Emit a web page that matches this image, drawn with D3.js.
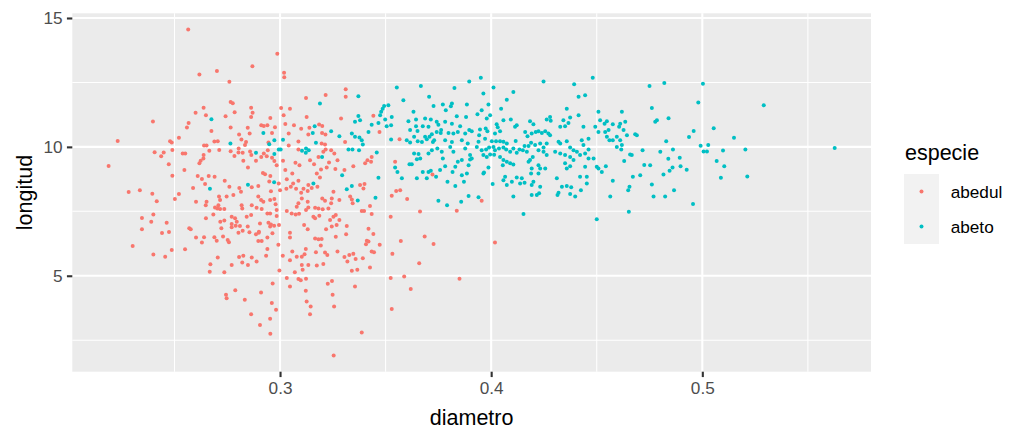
<!DOCTYPE html>
<html>
<head>
<meta charset="utf-8">
<script src="https://cdn.jsdelivr.net/npm/d3@7"></script>
<style>
  body { margin: 0; background: #fff; }
  text { font-family: "Liberation Sans", Arial, sans-serif; }
</style>
</head>
<body>
<div id="container"></div>
<script>
// values: [diametro, longitud]
const abedul = [
  [0.2398,10.98],[0.2231,10.23],[0.2188,9.26],[0.2406,9.79],[0.2449,9.78],[0.2437,9.64],[0.2479,10.22],[0.2487,10.17],
  [0.2490,9.88],[0.2473,9.33],[0.2490,8.88],[0.2521,10.35],[0.2336,8.32],[0.2283,8.25],[0.2395,8.18],[0.2416,7.89],
  [0.2502,7.98],[0.2521,8.17],[0.2346,7.24],[0.2400,7.38],[0.2390,7.10],[0.2346,6.80],[0.2463,7.06],[0.2441,6.66],
  [0.2474,6.70],[0.2302,6.15],[0.2400,5.82],[0.2456,5.74],[0.2487,6.00],
  [0.2565,14.55],[0.2618,12.81],[0.2701,12.94],[0.2760,12.53],[0.2869,13.13],[0.2987,13.61],[0.3019,12.88],[0.3020,12.70],
  [0.2766,11.74],[0.2776,11.69],[0.2863,11.52],[0.2638,11.52],[0.2600,11.32],[0.2649,11.23],[0.2742,11.19],[0.2785,11.34],
  [0.2870,11.32],[0.2863,11.16],[0.3005,11.51],[0.3047,11.48],[0.3017,11.23],[0.3123,11.90],[0.3126,11.16],[0.2954,11.12],
  [0.2567,10.93],[0.2559,10.75],[0.2675,10.62],[0.2911,10.84],[0.2923,10.81],[0.2940,10.84],[0.2847,10.74],[0.2766,10.75],
  [0.2806,10.48],[0.2856,10.52],[0.3025,10.89],[0.2976,10.76],[0.3066,10.84],[0.3100,10.70],[0.3139,10.74],[0.2962,10.54],
  [0.3041,10.52],[0.2689,10.21],[0.2705,10.22],[0.2817,10.29],[0.2839,10.19],[0.2945,10.17],[0.3087,10.21],[0.3134,10.48],
  [0.2640,10.05],[0.2652,10.05],[0.2665,9.85],[0.2712,9.88],[0.2766,9.83],[0.2804,9.94],[0.2834,10.07],[0.2784,9.65],
  [0.2803,9.78],[0.2823,9.77],[0.2858,9.82],[0.2864,9.68],[0.2942,9.87],[0.2923,9.74],[0.2937,9.64],[0.3041,10.05],
  [0.3087,9.90],[0.2539,9.74],[0.2551,9.74],[0.2638,9.68],[0.2637,9.55],[0.2624,9.46],[0.2618,9.36],[0.2547,9.10],
  [0.2826,9.46],[0.2848,9.20],[0.2886,9.46],[0.2911,9.61],[0.2962,9.58],[0.2973,9.45],[0.2984,9.29],[0.3025,9.10],
  [0.3014,9.46],[0.3073,9.38],[0.3092,9.29],[0.3058,8.97],[0.2919,8.99],[0.2929,8.94],[0.2954,8.87],[0.2949,8.66],
  [0.2610,8.87],[0.2630,8.75],[0.2662,8.87],[0.2690,8.84],[0.2645,8.56],[0.2588,8.40],[0.2738,8.69],[0.2760,8.45],
  [0.2807,8.40],[0.2815,8.26],[0.2866,8.43],[0.2897,8.48],[0.2957,8.28],[0.3000,8.32],[0.3030,8.38],[0.2994,8.58],
  [0.3051,8.45],[0.3062,8.58],[0.3087,8.69],[0.3076,8.38],[0.3100,8.22],[0.3111,8.38],[0.3134,8.52],[0.3131,8.29],
  [0.3032,8.74],
  [0.2602,7.87],[0.2648,7.74],[0.2652,7.87],[0.2711,8.07],[0.2716,7.94],[0.2708,7.74],[0.2779,8.13],[0.2747,8.07],
  [0.2818,7.74],[0.2821,7.61],[0.2897,8.07],[0.2910,7.94],[0.2921,7.87],[0.2953,7.94],[0.2973,7.98],[0.2979,7.77],
  [0.2692,7.65],[0.2703,7.61],[0.2716,7.59],[0.2736,7.59],[0.2866,7.74],[0.2889,7.64],[0.2913,7.59],[0.2940,7.42],
  [0.2953,7.42],[0.2984,7.55],[0.2984,7.32],[0.3032,7.51],[0.3055,7.42],[0.3074,7.38],[0.3090,7.41],[0.3079,7.68],
  [0.3087,7.81],[0.3103,8.00],[0.3131,7.87],[0.3134,7.65],[0.3123,7.55],[0.2863,7.36],[0.2842,7.29],[0.2649,7.23],
  [0.2684,7.38],[0.2717,7.10],[0.2736,7.14],[0.2771,7.29],[0.2787,7.23],[0.2795,7.10],[0.2771,7.01],[0.2771,6.88],
  [0.2790,6.94],[0.2810,6.93],[0.2847,6.91],[0.2823,6.75],[0.2905,7.03],[0.2900,6.71],[0.2945,7.06],[0.2957,6.99],
  [0.2972,6.94],[0.2995,6.97],[0.2953,6.91],[0.2570,6.84],[0.2577,6.80],[0.2722,6.84],[0.2803,6.67],[0.2855,6.69],
  [0.2899,6.67],[0.2886,6.61],[0.2940,6.48],[0.2964,6.65],[0.3047,6.67],[0.3047,6.48],[0.3114,6.97],[0.3131,6.80],
  [0.2602,6.48],[0.2640,6.49],[0.2630,6.29],[0.2689,6.49],[0.2700,6.36],[0.2730,6.52],[0.2752,6.39],[0.2758,6.30],
  [0.2897,6.35],[0.2913,6.35],[0.2940,6.04],[0.2934,5.78],[0.2992,6.20],[0.3122,6.04],[0.3116,5.83],[0.3103,5.74],
  [0.3058,5.94],[0.3079,5.74],[0.3047,5.60],[0.3013,5.78],[0.2550,6.03],[0.2705,5.71],[0.2806,5.73],[0.2826,5.78],
  [0.2821,5.51],[0.2866,5.71],[0.2889,5.55],[0.2848,5.42],[0.2771,5.42],[0.2670,5.45],[0.2667,5.16],[0.2736,5.14],
  [0.2997,5.20],[0.3070,5.14],[0.3107,5.23],[0.3103,5.42],[0.3134,5.42],[0.3032,4.91],[0.3047,4.58],[0.3087,4.87],
  [0.3098,4.83],[0.3123,4.88],[0.2965,4.70],[0.2788,4.44],[0.2744,4.26],[0.2747,4.13],[0.2910,4.35],[0.3122,4.42],
  [0.3126,4.00],[0.2961,3.94],[0.2833,4.07],[0.2863,3.51],[0.2905,3.09],[0.2953,3.33],[0.2954,2.75],[0.2981,3.68],
  [0.3216,12.01],[0.3311,11.94],[0.3289,11.10],[0.3442,11.21],[0.3471,10.58],[0.3185,10.87],[0.3200,10.81],[0.3199,10.54],
  [0.3215,10.48],[0.3197,10.13],[0.3213,10.09],[0.3216,9.90],[0.3205,9.81],[0.3308,10.19],[0.3142,9.48],[0.3161,9.33],
  [0.3242,9.87],[0.3257,9.74],[0.3182,9.61],[0.3272,9.48],[0.3262,9.14],[0.3232,9.39],[0.3221,9.20],[0.3194,9.12],
  [0.3174,8.97],[0.3189,8.81],[0.3347,9.25],[0.3305,9.10],[0.3414,9.48],[0.3431,9.42],[0.3434,9.61],[0.3403,9.36],
  [0.3545,9.42],[0.3566,10.30],[0.3177,8.45],[0.3150,8.40],[0.3253,8.26],[0.3379,8.52],[0.3395,8.39],[0.3400,8.56],
  [0.3550,8.29],[0.3569,8.32],[0.3311,12.24],[0.3722,8.93],
  [0.3200,8.00],[0.3213,7.91],[0.3245,8.00],[0.3281,7.94],[0.3242,7.81],[0.3332,8.07],[0.3340,7.96],[0.3344,7.81],
  [0.3166,7.64],[0.3182,7.61],[0.3202,7.58],[0.3229,7.61],[0.3237,7.16],[0.3253,7.29],[0.3264,7.36],[0.3281,7.16],
  [0.3268,6.97],[0.3245,6.91],[0.3218,6.80],[0.3158,7.29],[0.3166,7.23],[0.3186,7.33],[0.3387,7.51],[0.3398,7.51],
  [0.3434,7.40],[0.3426,7.71],[0.3316,6.93],[0.3313,6.61],[0.3419,6.82],[0.3442,6.62],[0.3264,6.51],[0.3166,6.45],
  [0.3182,6.42],[0.3197,6.43],[0.3193,6.17],[0.3411,6.36],[0.3419,6.33],[0.3407,6.22],[0.3472,6.20],[0.3272,5.94],
  [0.3213,5.90],[0.3224,5.81],[0.3170,5.91],[0.3305,5.73],[0.3319,5.55],[0.3328,5.81],[0.3347,5.85],[0.3358,5.65],
  [0.3392,5.68],[0.3434,5.94],[0.3445,5.91],[0.3426,5.32],[0.3174,5.40],[0.3205,5.46],[0.3340,5.19],[0.3366,5.23],
  [0.3226,4.69],[0.3246,4.80],[0.3355,4.58],[0.3249,4.26],[0.3529,8.10],[0.3602,7.98],[0.3524,7.29],[0.3663,7.49],
  [0.3572,6.35],[0.3685,6.52],[0.3727,6.23],[0.3532,5.85],[0.3659,5.49],[0.3524,4.91],[0.3588,4.97],[0.3619,4.49],
  [0.3145,3.81],[0.3142,3.51],[0.3256,3.81],[0.3387,2.80],[0.3254,1.91],[0.3529,3.71],
  [0.3955,7.91],[0.4018,6.29],[0.3837,7.52],[0.3850,4.88]
];

const abeto = [
  [0.2675,11.07],[0.2921,10.54],[0.2765,10.13],[0.2973,10.26],[0.3014,10.28],[0.2949,10.10],[0.2886,9.77],[0.2994,9.90],
  [0.3003,9.90],[0.2973,9.72],[0.3104,9.85],[0.3123,9.94],[0.3136,9.87],[0.3122,9.77],[0.2972,8.63],[0.2848,8.53],
  [0.2668,8.38],
  [0.3553,12.30],[0.3667,12.36],[0.3826,12.28],[0.3896,12.54],
  [0.3371,11.96],[0.3189,11.68],[0.3486,11.48],[0.3479,11.36],[0.3474,11.23],[0.3493,11.59],[0.3513,11.61],[0.3371,11.20],
  [0.3379,11.03],[0.3355,10.97],[0.3434,10.86],[0.3419,10.58],[0.3498,11.06],[0.3529,11.16],[0.3466,10.93],[0.3505,10.80],
  [0.3526,10.84],[0.3164,10.80],[0.3155,10.54],[0.3242,10.61],[0.3340,10.52],[0.3355,10.39],[0.3376,10.36],[0.3387,10.26],
  [0.3392,10.09],[0.3281,10.41],[0.3526,10.29],[0.3324,9.90],[0.3343,9.90],[0.3374,9.87],[0.3170,10.16],[0.3199,9.61],
  [0.3458,9.78],[0.3466,8.80],[0.3294,8.90],[0.3158,8.58],[0.3316,8.36],[0.3340,8.48],[0.3545,9.20],[0.3556,9.03],
  [0.3577,8.78],
  [0.3584,11.81],[0.3706,11.94],[0.3727,11.59],[0.3771,11.64],[0.3632,11.36],[0.3608,10.99],[0.3644,11.06],[0.3687,11.10],
  [0.3714,11.06],[0.3742,10.97],[0.3750,10.86],[0.3644,10.80],[0.3676,10.80],[0.3703,10.78],[0.3761,10.54],[0.3616,10.65],
  [0.3651,10.62],[0.3600,10.26],[0.3635,10.39],[0.3652,10.22],[0.3616,10.17],[0.3687,10.39],[0.3695,10.30],[0.3708,10.39],
  [0.3719,10.49],[0.3742,10.58],[0.3763,10.65],[0.3730,10.26],[0.3724,10.19],[0.3672,10.19],[0.3635,9.74],[0.3656,9.72],
  [0.3664,9.55],[0.3648,9.52],[0.3703,9.74],[0.3719,9.87],[0.3745,9.94],[0.3766,9.81],[0.3771,9.55],[0.3613,9.33],
  [0.3624,9.33],[0.3676,9.03],[0.3703,9.03],[0.3714,9.07],[0.3758,9.10],[0.3739,8.84],[0.3648,8.78],[0.3695,8.78],
  [0.3368,7.92],[0.3452,8.03],[0.3750,7.91],
  [0.3814,11.68],[0.3809,11.58],[0.3785,11.42],[0.3885,11.64],[0.3837,11.19],[0.3881,11.16],[0.3782,10.97],[0.3814,10.90],
  [0.3853,10.80],[0.3798,10.54],[0.3821,10.52],[0.3842,10.58],[0.3877,10.52],[0.3896,10.65],[0.3782,10.26],[0.3814,10.19],
  [0.3861,10.26],[0.3889,10.13],[0.3806,10.00],[0.3821,9.81],[0.3877,9.94],[0.3900,9.68],[0.3842,9.42],[0.3861,9.49],
  [0.3900,9.51],[0.3782,9.25],[0.3830,9.23],[0.3893,9.29],[0.3817,9.03],[0.3861,8.90],[0.3885,8.97],[0.3793,8.65],
  [0.3830,8.48],[0.3871,8.65],[0.3791,7.74],[0.3858,7.87],[0.3893,8.09],
  [0.3951,12.68],[0.4011,12.30],[0.3963,12.07],[0.4105,12.13],[0.4074,11.83],[0.4248,12.54],[0.4393,12.43],[0.4481,12.68],
  [0.4414,11.94],[0.4445,12.00],[0.4750,12.36],[0.4820,12.48],[0.3987,11.64],[0.3955,11.42],[0.3935,11.27],[0.3979,11.10],
  [0.3995,11.23],[0.4047,11.48],[0.4058,11.03],[0.4093,11.06],[0.3908,10.61],[0.3947,10.67],[0.3974,10.71],[0.3982,10.61],
  [0.4026,10.88],[0.4031,10.76],[0.4018,10.52],[0.4042,10.61],[0.3943,10.45],[0.3971,10.32],[0.3940,10.20],[0.4003,10.22],
  [0.4023,10.22],[0.4042,10.22],[0.4058,10.20],[0.4074,10.13],[0.3932,10.00],[0.3955,9.87],[0.3976,9.90],[0.3990,9.98],
  [0.4011,10.00],[0.4018,9.87],[0.4037,9.94],[0.4058,9.98],[0.4071,9.90],[0.4090,9.81],[0.4105,9.94],[0.4116,10.23],
  [0.4134,9.90],[0.4150,9.87],[0.4158,10.03],[0.4177,10.03],[0.4189,10.16],[0.4208,10.07],[0.4232,10.13],[0.4248,9.98],
  [0.3908,9.55],[0.3963,9.68],[0.3979,9.61],[0.3995,9.70],[0.4014,9.69],[0.4042,9.61],[0.4058,9.49],[0.4074,9.42],
  [0.4090,9.36],[0.4055,9.29],[0.4105,9.32],[0.3987,9.20],[0.3963,8.97],[0.4121,9.77],[0.4169,9.81],[0.4184,9.49],
  [0.4197,9.61],[0.4177,9.42],[0.4121,10.84],[0.4113,10.78],[0.4161,10.58],[0.4172,10.41],[0.4192,10.52],[0.4211,10.58],
  [0.4224,10.61],[0.4240,10.54],[0.4256,10.61],[0.4271,10.52],[0.4263,10.13],[0.4279,10.45],[0.4184,10.99],[0.4200,10.88],
  [0.4279,11.16],[0.4263,11.06],[0.4282,11.01],[0.4358,11.48],[0.4342,11.03],[0.4366,10.93],[0.4374,11.14],[0.4327,10.78],
  [0.4350,10.80],[0.4414,11.23],[0.4437,10.78],[0.4461,10.32],[0.4429,10.26],[0.4437,10.07],[0.4461,9.90],[0.4445,9.74],
  [0.4508,11.36],[0.4516,11.03],[0.4548,10.99],[0.4537,10.90],[0.4576,10.88],[0.4611,10.90],[0.4619,11.36],[0.4635,10.97],
  [0.4606,10.78],[0.4627,10.65],[0.4643,10.45],[0.4682,10.49],[0.4690,10.45],[0.4319,10.20],[0.4327,10.13],[0.4358,10.22],
  [0.4374,9.98],[0.4390,9.87],[0.4406,9.81],[0.4248,9.81],[0.4224,9.87],[0.4263,9.68],[0.4303,9.81],[0.4327,9.74],
  [0.4350,9.68],[0.4374,9.61],[0.4390,9.49],[0.4421,9.68],[0.4548,10.39],[0.4560,10.26],[0.4576,10.26],[0.4595,10.39],
  [0.4611,10.26],[0.4619,10.07],[0.4595,10.00],[0.4616,9.90],[0.4493,10.78],[0.4508,10.58],[0.4540,10.58],[0.4556,10.65],
  [0.4461,9.55],[0.4485,9.55],[0.4508,9.16],[0.4524,9.03],[0.4543,9.25],[0.4500,9.23],[0.4445,9.23],[0.4453,8.84],
  [0.4421,8.84],[0.4374,9.25],[0.4358,9.16],[0.4350,9.36],[0.4256,9.16],[0.4224,9.29],[0.4224,8.97],[0.4232,9.16],
  [0.4192,9.16],[0.4189,8.97],[0.4145,8.78],[0.4121,8.81],[0.4098,8.65],[0.4074,8.52],[0.4058,8.71],[0.4066,8.84],
  [0.4137,8.58],[0.4158,8.61],[0.4200,8.65],[0.4192,8.52],[0.4232,8.45],[0.4311,8.78],[0.4335,8.45],[0.4358,8.48],
  [0.4379,8.43],[0.4319,8.22],[0.4314,8.13],[0.4374,8.17],[0.4398,8.07],[0.4425,8.32],[0.4453,8.58],[0.4216,8.13],
  [0.4227,8.20],[0.4192,8.13],[0.4105,8.07],[0.4007,8.56],[0.3966,9.01],[0.3940,8.05],[0.4153,7.40],[0.4576,8.69],
  [0.4564,8.07],[0.4655,8.45],[0.4649,8.32],[0.4671,8.84],[0.4706,8.90],[0.4725,9.30],[0.4753,9.29],[0.4761,8.54],
  [0.4769,8.07],[0.4824,8.07],[0.4658,9.70],[0.4666,9.68],[0.4630,9.45],[0.4717,9.87],[0.4500,7.19],[0.4652,7.48],
  [0.4761,11.51],[0.4777,10.97],[0.4785,11.03],[0.4801,9.81],[0.4816,8.93],
  [0.5003,12.45],[0.4981,11.72],[0.4840,11.11],[0.5291,11.61],[0.5054,10.72],[0.4959,10.62],[0.4937,10.38],[0.5150,10.35],
  [0.4829,10.22],[0.4992,10.04],[0.5028,10.07],[0.4861,9.90],[0.5006,9.82],[0.5022,9.82],[0.5098,9.86],[0.5204,9.90],
  [0.5627,9.96],[0.4839,9.54],[0.4893,9.58],[0.5068,9.45],[0.5104,9.25],[0.4859,9.20],[0.4845,9.07],[0.4897,9.25],
  [0.4926,9.11],[0.5088,8.80],[0.5213,8.85],[0.4866,8.32],[0.4956,7.78]
];

const species = ["abedul", "abeto"];
const speciesColors = ["#F8766D", "#00BFC4"];
const xMajor = [0.3, 0.4, 0.5];
const xMinor = [0.25, 0.35, 0.45, 0.55];
const yMajor = [5, 10, 15];
const yMinor = [2.5, 7.5, 12.5];

const W = 1024, H = 442;
const panel = { left: 72.3, right: 871, top: 13.3, bottom: 371.7 };
const pt = 1.955; // px per pt at this resolution
const pointR = 2.0;

const svg = d3.select("div#container").append("svg")
    .attr("width", W)
    .attr("height", H);

// ggplot style expansion: 5% of the data range on each side
function expanded(values) {
    const [lo, hi] = d3.extent(values);
    const pad = (hi - lo) * 0.05;
    return [lo - pad, hi + pad];
}
const all = abedul.concat(abeto);

const xScale = d3.scaleLinear()
    .domain(expanded(all.map(d => d[0])))
    .range([panel.left, panel.right]);
const yScale = d3.scaleLinear()
    .domain(expanded(all.map(d => d[1])))
    .range([panel.bottom, panel.top]);

// panel background
svg.append("rect")
    .attr("x", panel.left)
    .attr("y", panel.top)
    .attr("width", panel.right - panel.left)
    .attr("height", panel.bottom - panel.top)
    .attr("fill", "#EBEBEB");

const grid = svg.append("g");
grid.selectAll(".xminor").data(xMinor).join("line")
    .attr("x1", d => xScale(d)).attr("x2", d => xScale(d))
    .attr("y1", panel.top).attr("y2", panel.bottom)
    .attr("stroke", "#fff").attr("stroke-width", 1.05);
grid.selectAll(".yminor").data(yMinor).join("line")
    .attr("y1", d => yScale(d)).attr("y2", d => yScale(d))
    .attr("x1", panel.left).attr("x2", panel.right)
    .attr("stroke", "#fff").attr("stroke-width", 1.05);
grid.selectAll(".xmajor").data(xMajor).join("line")
    .attr("x1", d => xScale(d)).attr("x2", d => xScale(d))
    .attr("y1", panel.top).attr("y2", panel.bottom)
    .attr("stroke", "#fff").attr("stroke-width", 2.1);
grid.selectAll(".ymajor").data(yMajor).join("line")
    .attr("y1", d => yScale(d)).attr("y2", d => yScale(d))
    .attr("x1", panel.left).attr("x2", panel.right)
    .attr("stroke", "#fff").attr("stroke-width", 2.1);

// points, abedul under abeto
[abedul, abeto].forEach((rows, i) => {
    svg.append("g").selectAll("circle")
        .data(rows)
        .join("circle")
        .attr("cx", d => xScale(d[0]))
        .attr("cy", d => yScale(d[1]))
        .attr("r", pointR)
        .attr("fill", speciesColors[i]);
});

// axes
const xaxis = d3.axisBottom(xScale)
    .tickValues(xMajor)
    .tickFormat(d3.format(".1f"))
    .tickSize(2.75 * pt)
    .tickPadding(2.2 * pt);
const yaxis = d3.axisLeft(yScale)
    .tickValues(yMajor)
    .tickSize(2.75 * pt)
    .tickPadding(2.2 * pt);

const gx = svg.append("g")
    .attr("transform", "translate(0," + panel.bottom + ")")
    .call(xaxis);
const gy = svg.append("g")
    .attr("transform", "translate(" + panel.left + ",0)")
    .call(yaxis);

[gx, gy].forEach(g => {
    g.select(".domain").remove();
    g.selectAll(".tick line").attr("stroke", "#333333").attr("stroke-width", 2.1);
    g.selectAll(".tick text")
        .attr("fill", "#4D4D4D")
        .style("font", "17.2px 'Liberation Sans', Arial, sans-serif");
});

// axis titles
svg.append("text")
    .attr("text-anchor", "middle")
    .attr("x", (panel.left + panel.right) / 2)
    .attr("y", 425)
    .text("diametro")
    .style("font", "21.5px 'Liberation Sans', Arial, sans-serif");

svg.append("text")
    .attr("text-anchor", "middle")
    .attr("transform", "translate(32," + (panel.top + panel.bottom) / 2 + ")rotate(-90)")
    .text("longitud")
    .style("font", "21.5px 'Liberation Sans', Arial, sans-serif");

// legend
const legend = svg.append("g").attr("transform", "translate(904,174)");
legend.append("text")
    .attr("x", 1)
    .attr("y", -14)
    .text("especie")
    .style("font", "21.5px 'Liberation Sans', Arial, sans-serif");

const keys = legend.selectAll(".key").data(species).join("g")
    .attr("transform", (d, i) => "translate(0," + i * 35 + ")");
keys.append("rect")
    .attr("width", 35).attr("height", 35)
    .attr("fill", "#F2F2F2");
keys.append("circle")
    .attr("cx", 17.5).attr("cy", 17.5).attr("r", pointR)
    .attr("fill", (d, i) => speciesColors[i]);
keys.append("text")
    .attr("x", 46.7)
    .attr("y", 23.8)
    .text(d => d)
    .style("font", "17.2px 'Liberation Sans', Arial, sans-serif");
</script>
</body>
</html>
